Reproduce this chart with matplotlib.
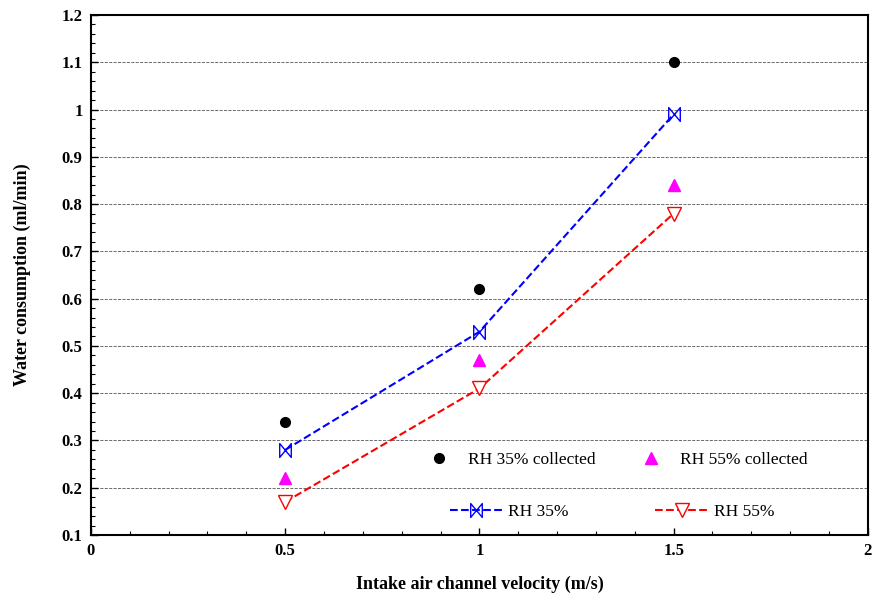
import matplotlib
matplotlib.use("Agg")
import matplotlib.pyplot as plt
from matplotlib.path import Path
from matplotlib.ticker import MultipleLocator

# data
velocity = [0.5, 1.0, 1.5]
rh35_collected = [0.34, 0.62, 1.10]
rh55_collected = [0.22, 0.47, 0.84]
rh35_model = [0.28, 0.53, 0.99]
rh55_model = [0.17, 0.41, 0.78]

plt.rcParams["font.family"] = ["Liberation Serif", "DejaVu Serif"]

W, H = 874, 596

# bowtie marker
bowtie = Path([(-1, -1.2), (-1, 1.2), (1, -1.2), (1, 1.2), (-1, -1.2)],
              [Path.MOVETO, Path.LINETO, Path.LINETO, Path.LINETO, Path.CLOSEPOLY])

fig = plt.figure(figsize=(W / 100, H / 100), dpi=100)
ax = fig.add_axes([0.104, 0.1023, 0.889, 0.8725])

c35, = ax.plot(velocity, rh35_collected, "o", color="black", ms=7, ls="none",
               label="RH 35% collected")
c55, = ax.plot(velocity, rh55_collected, "^", color="#ff00ff", ms=8, ls="none",
               label="RH 55% collected")
m35, = ax.plot(velocity, rh35_model, ls="--", color="blue", lw=1.5,
               marker=bowtie, ms=10, mfc="none", mec="blue", mew=1,
               label="RH 35%")
m55, = ax.plot(velocity, rh55_model, ls="--", color="red", lw=1.5,
               marker="v", ms=10, mfc="white", mec="red", mew=1,
               label="RH 55%")

ax.set_xlim(0, 2)
ax.set_ylim(0.1, 1.2)
ax.xaxis.set_minor_locator(MultipleLocator(0.1))
ax.yaxis.set_minor_locator(MultipleLocator(0.02))
ax.set_xticks([0, 0.5, 1, 1.5, 2])
ax.set_xticklabels(["0", "0.5", "1", "1.5", "2"])
ax.set_yticks([0.1, 0.2, 0.3, 0.4, 0.5, 0.6, 0.7, 0.8, 0.9, 1.0, 1.1, 1.2])
ax.set_yticklabels(["0.1", "0.2", "0.3", "0.4", "0.5", "0.6", "0.7", "0.8",
                    "0.9", "1", "1.1", "1.2"])
ax.tick_params(which="both", direction="in", top=False, right=False)
ax.tick_params(which="major", length=5, width=1, pad=6)
ax.tick_params(which="minor", length=3, width=0.8)
for lbl in ax.get_xticklabels() + ax.get_yticklabels():
    lbl.set_fontweight("bold")
    lbl.set_fontsize(12)
ax.grid(axis="y", which="major", ls="--", lw=0.6, color="#555555")
for s in ax.spines.values():
    s.set_linewidth(1.5)

ax.set_xlabel("Intake air channel velocity (m/s)", fontsize=13, fontweight="bold", labelpad=12)
ax.set_ylabel("Water consumption (ml/min)", fontsize=13, fontweight="bold", labelpad=22)

leg1 = ax.legend(handles=[c35, c55], ncol=2, frameon=False, fontsize=12.5,
                 loc="center left", bbox_to_anchor=(430 / W, 1 - 460 / H),
                 bbox_transform=fig.transFigure, borderpad=0, borderaxespad=0,
                 handlelength=1.0, handletextpad=1.2, columnspacing=2.67)
ax.add_artist(leg1)
ax.legend(handles=[m35, m55], ncol=2, frameon=False, fontsize=12.5,
          loc="center left", bbox_to_anchor=(450 / W, 1 - 512 / H),
          bbox_transform=fig.transFigure, borderpad=0, borderaxespad=0,
          handlelength=3.05, handletextpad=0.3, columnspacing=5.0)

fig.savefig("out.png", dpi=100)
